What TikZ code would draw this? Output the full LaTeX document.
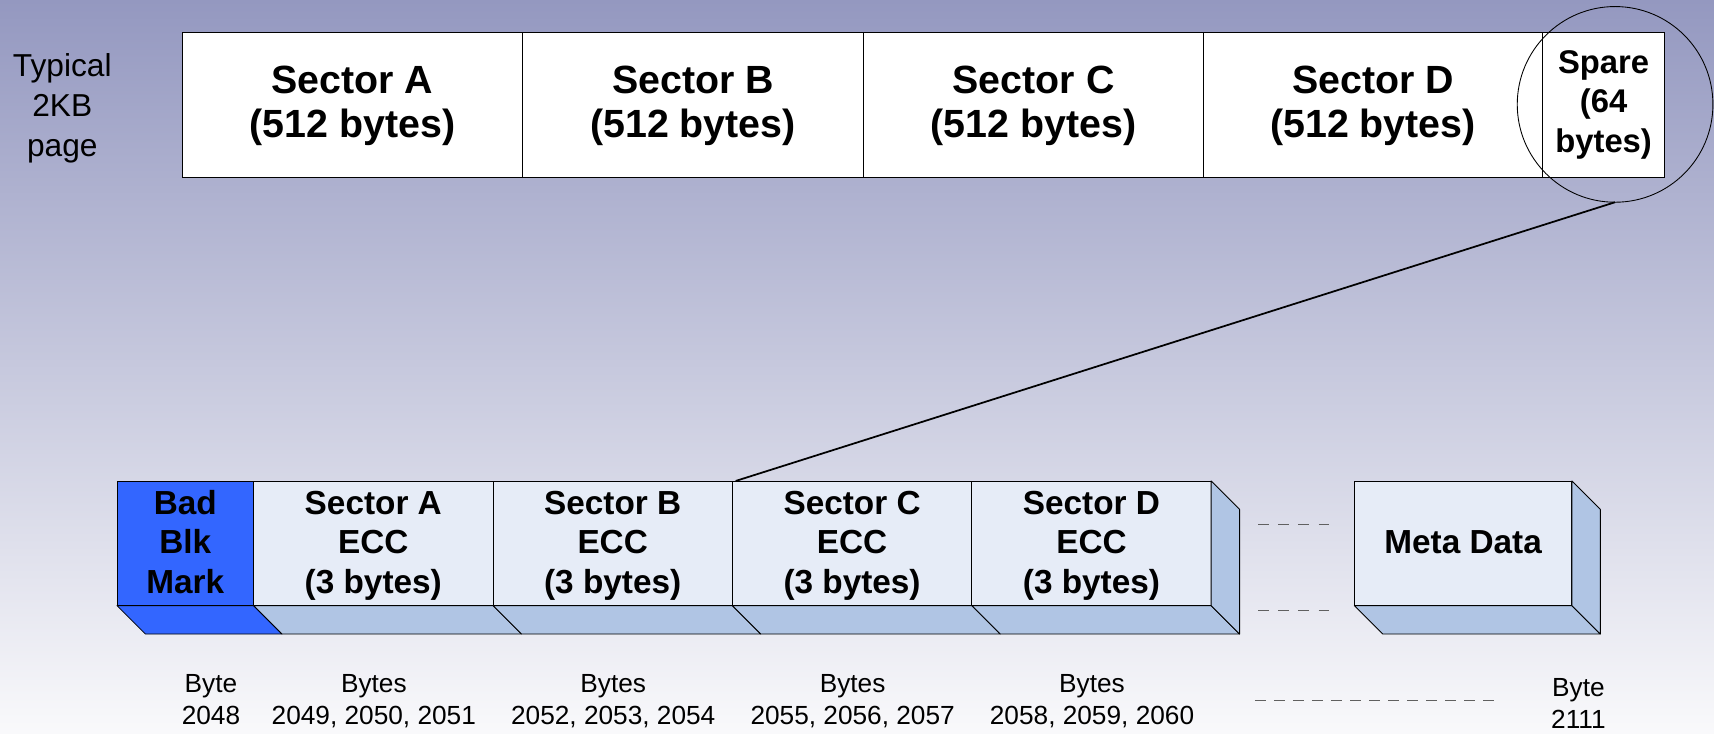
\documentclass[tikz,border=0pt]{standalone}
\usepackage{fontspec}
\setmainfont{Liberation Sans}
\definecolor{bgtop}{RGB}{148,152,192}
\definecolor{bgmid}{RGB}{202,204,224}
\definecolor{bgbot}{RGB}{249,249,251}
\definecolor{frontblue}{RGB}{230,236,247}
\definecolor{depthblue}{RGB}{176,197,228}
\definecolor{badblue}{RGB}{51,102,255}
\definecolor{dashgray}{RGB}{96,96,96}
\newcommand{\toppad}[1]{\rule{0pt}{#1}}
\newcommand{\ftop}{\rule{0pt}{26pt}}
\newcommand{\fbot}{\rule[-6.5pt]{0pt}{6.5pt}}
\begin{document}
\begin{tikzpicture}[x=1pt,y=-1pt,
  every node/.style={inner sep=0pt, outer sep=0pt},
  topbox/.style={draw=black, line width=0.8pt, fill=white, minimum height=132pt, align=center, font=\fontsize{36}{40}\selectfont\bfseries},
  front/.style={draw=black, line width=0.8pt, fill=frontblue, minimum height=114pt, align=center, font=\fontsize{30.5}{36}\selectfont\bfseries},
  depthface/.style={draw=black, line width=0.8pt, fill=depthblue, line join=round},
  lbl/.style={align=center, font=\fontsize{24}{29}\selectfont},
  gapdash/.style={draw=dashgray, line width=0.8pt, dash pattern=on 10pt off 8.4pt},
]
\shade[top color=bgtop, middle color=bgmid, bottom color=bgbot] (0,0) rectangle (1568,671);
\useasboundingbox (0,0) rectangle (1568,671);

% top page
\node[align=center, font=\fontsize{29}{36.5}\selectfont] (typ) at (57,99) {Typical\\2KB\\page};
\node[topbox, minimum width=311pt] (secA) at (322.5,96) {\toppad{27pt}Sector A\\(512 bytes)};
\node[topbox, minimum width=312pt] (secB) at (634,96) {\toppad{27pt}Sector B\\(512 bytes)};
\node[topbox, minimum width=311pt] (secC) at (945.5,96) {\toppad{27pt}Sector C\\(512 bytes)};
\node[topbox, minimum width=310pt] (secD) at (1256,96) {\toppad{27pt}Sector D\\(512 bytes)};
\node[topbox, minimum width=112pt, font=\fontsize{30}{36}\selectfont\bfseries] (spare) at (1467,96) {Spare\\(64\\bytes)};
\node[draw=black, line width=0.8pt, circle, minimum size=179pt] (zoomc) at (1477.5,95.5) {};

% spare area blocks
\node[front, fill=badblue, minimum width=125pt] (bad) at (169.5,497) {\ftop Bad\\Blk\\Mark\fbot};
\node[front, minimum width=219pt] (eccA) at (341.5,497) {\ftop Sector A\\ECC\\(3 bytes)\fbot};
\node[front, minimum width=219pt] (eccB) at (560.5,497) {\ftop Sector B\\ECC\\(3 bytes)\fbot};
\node[front, minimum width=219pt] (eccC) at (779.5,497) {\ftop Sector C\\ECC\\(3 bytes)\fbot};
\node[front, minimum width=219pt] (eccD) at (998.5,497) {\ftop Sector D\\ECC\\(3 bytes)\fbot};
\node[front, minimum width=199pt] (meta) at (1338.5,497) {\ftop Meta Data\fbot};

% depth faces
\draw[depthface, fill=badblue] (bad.south west) -- (bad.south east) -- ++(26,26) -- ++(-125,0) -- cycle;
\foreach \b in {eccA,eccB,eccC,eccD} {
  \draw[depthface] (\b.south west) -- (\b.south east) -- ++(26,26) -- ++(-219,0) -- cycle;
}
\draw[depthface] (eccD.north east) -- ++(26,26) -- ++(0,114) -- (eccD.south east) -- cycle;
\draw[depthface] (meta.south west) -- (meta.south east) -- ++(26,26) -- ++(-199,0) -- cycle;
\draw[depthface] (meta.north east) -- ++(26,26) -- ++(0,114) -- (meta.south east) -- cycle;

% zoom connector
\draw[line width=1.6pt] (zoomc.south) -- ([xshift=3pt]eccC.north west);

% gap dashes
\coordinate (g1a) at (1151,479.4);
\coordinate (g1b) at (1217,479.4);
\coordinate (g2a) at (1151,558.7);
\coordinate (g2b) at (1217,558.7);
\draw[gapdash] (g1a) -- (g1b);
\draw[gapdash] (g2a) -- (g2b);

% byte labels
\node[lbl] (l0) at (193,640) {Byte\\2048};
\node[lbl] (l1) at (342,641.2) {Bytes\\2049, 2050, 2051};
\node[lbl] (l2) at (561,641.2) {Bytes\\2052, 2053, 2054};
\node[lbl] (l3) at (780,641.2) {Bytes\\2055, 2056, 2057};
\node[lbl] (l4) at (999,641.2) {Bytes\\2058, 2059, 2060};
\node[lbl] (l5) at (1444,643.3) {Byte\\2111};
\coordinate (g3a) at (1148,641);
\coordinate (g3b) at (1368,641);
\draw[draw=dashgray, line width=0.8pt, dash pattern=on 10pt off 7.4pt] (g3a) -- (g3b);
\end{tikzpicture}
\end{document}
